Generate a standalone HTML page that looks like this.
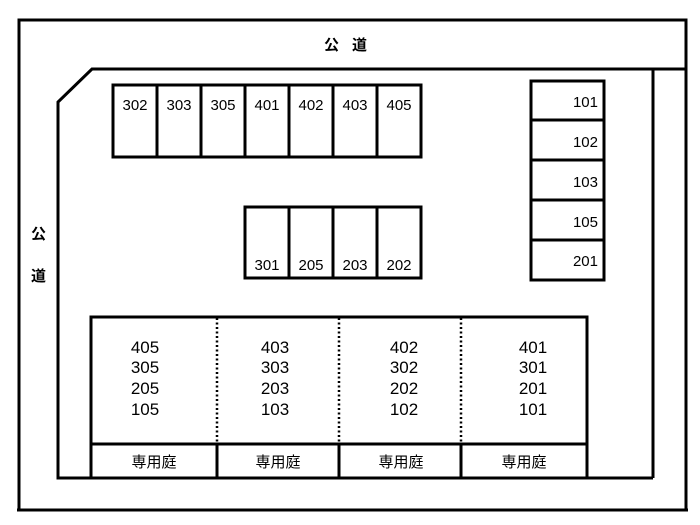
<!DOCTYPE html>
<html><head><meta charset="utf-8"><style>
html,body{margin:0;padding:0;background:#fff;}
svg{display:block;}
text{font-family:"Liberation Sans","Noto Sans CJK JP",sans-serif;fill:#000;}
.n{font-size:15px;}
.b{font-size:17px;}
.j{font-size:15px;}
.k{font-size:15px;font-weight:bold;}
</style></head><body>
<svg width="700" height="525" viewBox="0 0 700 525" xmlns="http://www.w3.org/2000/svg">
<g fill="none" stroke="#000" stroke-width="3">
<polyline points="19,510 19,20 686,20 686,510"/>
<line x1="17" y1="510" x2="688" y2="510"/>
<polyline points="686,69 92,69 58,102 58,478 653,478"/>
<line x1="653" y1="69" x2="653" y2="478"/>
<rect x="113" y="85" width="308" height="72"/>
<line x1="157" y1="85" x2="157" y2="157"/>
<line x1="201" y1="85" x2="201" y2="157"/>
<line x1="245" y1="85" x2="245" y2="157"/>
<line x1="289" y1="85" x2="289" y2="157"/>
<line x1="333" y1="85" x2="333" y2="157"/>
<line x1="377" y1="85" x2="377" y2="157"/>
<rect x="245" y="207" width="176" height="71"/>
<line x1="289" y1="207" x2="289" y2="278"/>
<line x1="333" y1="207" x2="333" y2="278"/>
<line x1="377" y1="207" x2="377" y2="278"/>
<rect x="531" y="81" width="73" height="199"/>
<line x1="531" y1="120" x2="604" y2="120"/>
<line x1="531" y1="160" x2="604" y2="160"/>
<line x1="531" y1="200" x2="604" y2="200"/>
<line x1="531" y1="240" x2="604" y2="240"/>
<rect x="91" y="317" width="496" height="161"/>
<line x1="91" y1="444" x2="587" y2="444"/>
<line x1="217" y1="444" x2="217" y2="478"/>
<line x1="339" y1="444" x2="339" y2="478"/>
<line x1="461" y1="444" x2="461" y2="478"/>
</g>
<g stroke="#000" stroke-width="2.5" stroke-dasharray="2,2.5">
<line x1="217" y1="318" x2="217" y2="444"/>
<line x1="339" y1="318" x2="339" y2="444"/>
<line x1="461" y1="318" x2="461" y2="444"/>
</g>
<text class="k" x="324" y="50">公</text>
<text class="k" x="352" y="50">道</text>
<text class="k" x="31" y="239">公</text>
<text class="k" x="31" y="281">道</text>
<g class="n" text-anchor="middle">
<text x="135" y="110">302</text>
<text x="179" y="110">303</text>
<text x="223" y="110">305</text>
<text x="267" y="110">401</text>
<text x="311" y="110">402</text>
<text x="355" y="110">403</text>
<text x="399" y="110">405</text>
<text x="267" y="270">301</text>
<text x="311" y="270">205</text>
<text x="355" y="270">203</text>
<text x="399" y="270">202</text>
</g>
<g class="n" text-anchor="end">
<text x="598" y="107">101</text>
<text x="598" y="147">102</text>
<text x="598" y="187">103</text>
<text x="598" y="227">105</text>
<text x="598" y="266">201</text>
</g>
<g class="b" text-anchor="middle">
<text x="145" y="353">405</text><text x="145" y="373">305</text><text x="145" y="394">205</text><text x="145" y="415">105</text>
<text x="275" y="353">403</text><text x="275" y="373">303</text><text x="275" y="394">203</text><text x="275" y="415">103</text>
<text x="404" y="353">402</text><text x="404" y="373">302</text><text x="404" y="394">202</text><text x="404" y="415">102</text>
<text x="533" y="353">401</text><text x="533" y="373">301</text><text x="533" y="394">201</text><text x="533" y="415">101</text>
</g>
<g class="j" text-anchor="middle">
<text x="154" y="467">専用庭</text>
<text x="278" y="467">専用庭</text>
<text x="401" y="467">専用庭</text>
<text x="524" y="467">専用庭</text>
</g>
</svg>
</body></html>
